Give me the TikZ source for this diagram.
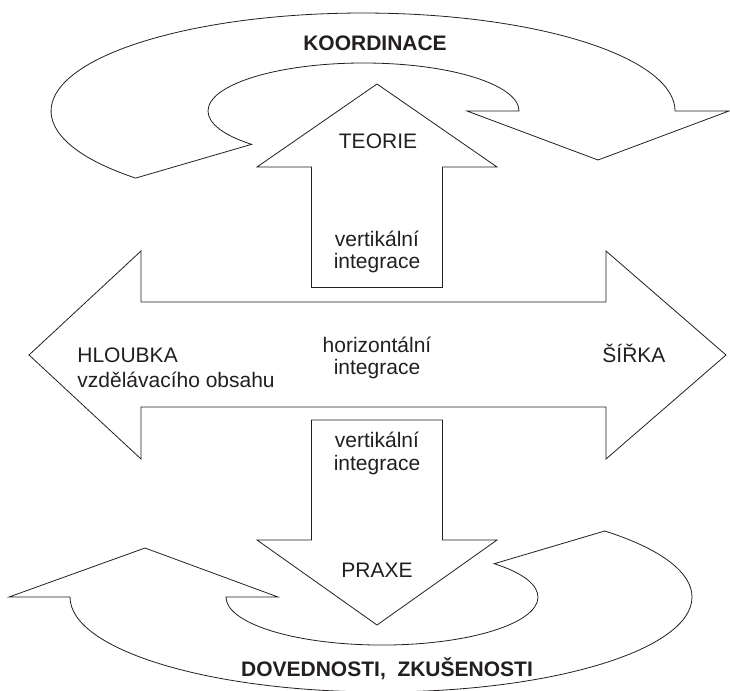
\documentclass[tikz,border=0pt]{standalone}
\usepackage{fontspec}
\setmainfont{Liberation Sans}
\definecolor{ink}{HTML}{231F20}
\begin{document}
\begin{tikzpicture}[x=1pt,y=-1pt, line width=0.8pt, line join=miter,
  shapeline/.style={draw=ink, fill=white},
  lbl/.style={anchor=base, inner sep=0pt, text=ink, font=\fontsize{21}{24}\selectfont},
  blbl/.style={lbl, font=\fontsize{21}{24}\selectfont\bfseries}]
\useasboundingbox (0,0) rectangle (730,690);

% top curved arrow (KOORDINACE)
\draw[shapeline] (135.6,178.1)
  arc[start angle=136.8, end angle=360, x radius=312, y radius=98]
  -- (729,111) -- (598,160) -- (467,111) -- (519,111)
  arc[start angle=0, end angle=-224, x radius=155.5, y radius=48]
  -- cycle;

% bottom curved arrow (DOVEDNOSTI)
\draw[shapeline] (70,597)
  arc[start angle=180, end angle=-44, x radius=311, y radius=95]
  -- (494.2,563.7)
  arc[start angle=-44, end angle=180, x radius=156, y radius=48]
  -- (278,597) -- (145,548) -- (9,597) -- cycle;

% up arrow (TEORIE)
\draw[shapeline] (311.5,287.5) -- (311.5,167) -- (257,167) -- (377,84)
  -- (497,167) -- (442.5,167) -- (442.5,287.5) -- cycle;

% down arrow (PRAXE)
\draw[shapeline] (311.5,420) -- (442.5,420) -- (442.5,540) -- (497,540)
  -- (377,625) -- (257,540) -- (311.5,540) -- cycle;

% horizontal double arrow
\draw[shapeline] (141,302) -- (606,302) -- (606,251) -- (726,355)
  -- (606,459) -- (606,407) -- (141,407) -- (141,459) -- (29,355)
  -- (141,251) -- cycle;

% labels
\node[blbl] (koord) at (375,50.5) {KOORDINACE};
\node[lbl] (teorie) at (378,148) {TEORIE};
\node[lbl] (vert1a) at (377,246.5) {vertikální};
\node[lbl] (vert1b) at (377,268.5) {integrace};
\node[lbl, anchor=base west] (hloubka) at (77,362) {HLOUBKA};
\node[lbl, anchor=base west] (obsah) at (77,387) {vzdělávacího obsahu};
\node[lbl] (horiz1) at (377,352) {horizontální};
\node[lbl] (horiz2) at (377,374.5) {integrace};
\node[lbl, anchor=base west] (sirka) at (602,362) {ŠÍŘKA};
\node[lbl] (vert2a) at (377,447.5) {vertikální};
\node[lbl] (vert2b) at (377,470) {integrace};
\node[lbl] (praxe) at (377,577) {PRAXE};
\node[blbl] (doved) at (387,676) {DOVEDNOSTI,\ \ ZKUŠENOSTI};
\end{tikzpicture}
\end{document}
